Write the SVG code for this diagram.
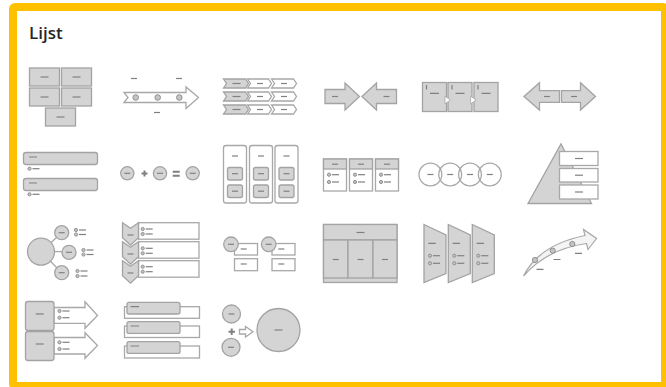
<svg xmlns="http://www.w3.org/2000/svg" width="666" height="387" viewBox="0 0 666 387">
<style>
.g{fill:#d4d4d4;stroke:#a3a3a3;stroke-width:1.3}
.w{fill:#fff;stroke:#a8a8a8;stroke-width:1.3}
.o{fill:none;stroke:#a8a8a8;stroke-width:1.3}
.d{fill:none;stroke:#808080;stroke-width:1.2}
.k{fill:none;stroke:#808080;stroke-width:2}
.c{fill:#c4c4c4;stroke:#909090;stroke-width:1}
.t{font-family:"Open Sans","Noto Sans",sans-serif;font-weight:600;font-size:17px;fill:#262626}
</style>
<defs>
<path id="d5" d="M-3,0h6" class="d"/>
<path id="d7" d="M-4,0h8" class="d"/>
<g id="bul"><circle r="1.6" class="c"/><path d="M3,0h7" class="d"/></g>
</defs>
<rect x="0" y="0" width="666" height="387" fill="#fff"/>
<rect x="13" y="7" width="652" height="379" rx="2" fill="none" stroke="#ffc000" stroke-width="8"/>
<text class="t" x="29" y="39">Lijst</text>

<g id="r1c1">
<rect class="g" x="29.5" y="68" width="30" height="18"/>
<rect class="g" x="61.5" y="68" width="30" height="18"/>
<rect class="g" x="29.5" y="88" width="30" height="18"/>
<rect class="g" x="61.5" y="88" width="30" height="18"/>
<rect class="g" x="45.5" y="108" width="30" height="18"/>
<use href="#d7" x="44.5" y="77"/><use href="#d7" x="76.5" y="77"/>
<use href="#d7" x="44.5" y="97"/><use href="#d7" x="76.5" y="97"/>
<use href="#d7" x="60.5" y="117"/>
</g>

<g id="r1c2">
<path class="w" d="M124,92.5H186V87L198.5,97.5L186,108.5V102.5H124L128,97.5Z"/>
<circle class="c" cx="135.7" cy="97.5" r="2.8"/>
<circle class="c" cx="157.7" cy="97.5" r="2.8"/>
<circle class="c" cx="179.3" cy="97.5" r="2.8"/>
<use href="#d5" x="134" y="78.5"/><use href="#d5" x="179" y="78.5"/><use href="#d5" x="157" y="112.5"/>
</g>

<g id="r1c3">
<path class="w" d="M271.5,79H293.5L296.5,83.5L293.5,88H271.5L274.5,83.5Z"/>
<path class="w" d="M247.5,79H268.5L271.5,83.5L268.5,88H247.5L250.5,83.5Z"/>
<path class="g" d="M223.5,79H245.5L248.5,83.5L245.5,88H223.5L226.5,83.5Z"/>
<path class="w" d="M271.5,92H293.5L296.5,96.5L293.5,101H271.5L274.5,96.5Z"/>
<path class="w" d="M247.5,92H268.5L271.5,96.5L268.5,101H247.5L250.5,96.5Z"/>
<path class="g" d="M223.5,92H245.5L248.5,96.5L245.5,101H223.5L226.5,96.5Z"/>
<path class="w" d="M271.5,105H293.5L296.5,109.5L293.5,114H271.5L274.5,109.5Z"/>
<path class="w" d="M247.5,105H268.5L271.5,109.5L268.5,114H247.5L250.5,109.5Z"/>
<path class="g" d="M223.5,105H245.5L248.5,109.5L245.5,114H223.5L226.5,109.5Z"/>
<use href="#d7" x="236.5" y="83.5"/><use href="#d5" x="260" y="83.5"/><use href="#d5" x="284" y="83.5"/>
<use href="#d7" x="236.5" y="96.5"/><use href="#d5" x="260" y="96.5"/><use href="#d5" x="284" y="96.5"/>
<use href="#d7" x="236.5" y="109.5"/><use href="#d5" x="260" y="109.5"/><use href="#d5" x="284" y="109.5"/>
</g>

<g id="r1c4">
<path class="g" d="M325,89.5H345V83L359.5,96.5L345,110V103.5H325Z"/>
<path class="g" d="M396.5,89.5H376.5V83L362,96.5L376.5,110V103.5H396.5Z"/>
<use href="#d5" x="335" y="96.5"/><use href="#d5" x="386.5" y="96.5"/>
</g>

<g id="r1c5">
<rect class="g" x="422.5" y="82.5" width="24" height="29"/>
<rect class="g" x="448" y="82.5" width="24" height="29"/>
<rect class="g" x="474" y="82.5" width="24" height="29"/>
<path class="d" d="M426.5,85v4.5M452,85v4.5M478,85v4.5"/>
<path class="d" d="M430,93.3h9M455.5,93.3h9M481.5,93.3h9"/>
<path fill="#fff" stroke="#a8a8a8" stroke-width="0.8" d="M445,96.2L450.5,100L445,103.8Z"/>
<path fill="#fff" stroke="#a8a8a8" stroke-width="0.8" d="M470.6,96.2L476.1,100L470.6,103.8Z"/>
</g>

<g id="r1c6">
<path class="g" d="M524,96.5L539.5,82.7V90.7H559.5V102.3H539.5V110Z"/>
<path class="g" d="M561.5,90.7H580.5V82.7L595.5,96.5L580.5,110V102.3H561.5Z"/>
<use href="#d5" x="547" y="96.5"/><use href="#d5" x="574" y="96.5"/>
</g>

<g id="r2c1">
<rect class="g" x="23.5" y="152.5" width="74" height="12" rx="2.5"/>
<rect class="g" x="23.5" y="178.5" width="74" height="12" rx="2.5"/>
<path class="d" d="M29,157h8M29,183h8"/>
<use href="#bul" x="29.5" y="168.7"/><use href="#bul" x="29.5" y="194.3"/>
</g>

<g id="r2c2">
<circle class="g" cx="127.3" cy="173.3" r="6.6"/>
<circle class="g" cx="160" cy="173.3" r="6.6"/>
<circle class="g" cx="192.7" cy="173.3" r="6.6"/>
<use href="#d5" x="127.3" y="173.3"/><use href="#d5" x="160" y="173.3"/><use href="#d5" x="192.7" y="173.3"/>
<path class="k" d="M141.5,173.5h6M144.5,170.5v6M172.7,171.7h7M172.7,175.7h7"/>
</g>

<g id="r2c3">
<rect class="w" x="223.5" y="145.5" width="23" height="57.5" rx="2.5"/>
<rect class="w" x="249.5" y="145.5" width="23" height="57.5" rx="2.5"/>
<rect class="w" x="275" y="145.5" width="23" height="57.5" rx="2.5"/>
<rect class="g" x="227.5" y="167.5" width="15" height="12.5" rx="2"/>
<rect class="g" x="227.5" y="185" width="15" height="12.5" rx="2"/>
<rect class="g" x="253.5" y="167.5" width="15" height="12.5" rx="2"/>
<rect class="g" x="253.5" y="185" width="15" height="12.5" rx="2"/>
<rect class="g" x="279" y="167.5" width="15" height="12.5" rx="2"/>
<rect class="g" x="279" y="185" width="15" height="12.5" rx="2"/>
<use href="#d5" x="235" y="156"/><use href="#d5" x="261" y="156"/><use href="#d5" x="286.5" y="156"/>
<use href="#d5" x="235" y="173.7"/><use href="#d5" x="261" y="173.7"/><use href="#d5" x="286.5" y="173.7"/>
<use href="#d5" x="235" y="191.2"/><use href="#d5" x="261" y="191.2"/><use href="#d5" x="286.5" y="191.2"/>
</g>

<g id="r2c4">
<rect class="w" x="323.5" y="159" width="23" height="32"/>
<rect class="w" x="349.5" y="159" width="23" height="32"/>
<rect class="w" x="375.5" y="159" width="23" height="32"/>
<rect class="g" x="323.5" y="159" width="23" height="10"/>
<rect class="g" x="349.5" y="159" width="23" height="10"/>
<rect class="g" x="375.5" y="159" width="23" height="10"/>
<use href="#d5" x="335" y="164.2"/><use href="#d5" x="361" y="164.2"/><use href="#d5" x="387" y="164.2"/>
<use href="#bul" x="329" y="174.7"/><use href="#bul" x="329" y="182"/>
<use href="#bul" x="355" y="174.7"/><use href="#bul" x="355" y="182"/>
<use href="#bul" x="381" y="174.7"/><use href="#bul" x="381" y="182"/>
</g>

<g id="r2c5">
<circle class="o" cx="430.4" cy="174.5" r="11.4"/>
<circle class="o" cx="450.2" cy="174.5" r="11.4"/>
<circle class="o" cx="470" cy="174.5" r="11.4"/>
<circle class="o" cx="489.8" cy="174.5" r="11.4"/>
<use href="#d5" x="430.4" y="174.5"/><use href="#d5" x="450.2" y="174.5"/><use href="#d5" x="470" y="174.5"/><use href="#d5" x="489.8" y="174.5"/>
</g>

<g id="r2c6">
<path class="g" d="M528,203.5L561,144L591.5,203.5Z"/>
<rect class="w" x="559.5" y="151.5" width="38.5" height="14"/>
<rect class="w" x="559.5" y="168.5" width="38.5" height="13.5"/>
<rect class="w" x="559.5" y="185" width="38.5" height="14"/>
<use href="#d7" x="579" y="158.5"/><use href="#d7" x="579" y="175.2"/><use href="#d7" x="579" y="192"/>
</g>

<g id="r3c1">
<path class="o" d="M41,251.7L61.7,232.7M41,251.7H69M41,251.7L61.7,272.7"/>
<circle class="g" cx="41" cy="251.7" r="13.5"/>
<circle class="g" cx="61.7" cy="232.7" r="7"/>
<circle class="g" cx="69" cy="252.3" r="7"/>
<circle class="g" cx="61.7" cy="272.7" r="7"/>
<use href="#d5" x="61.7" y="232.7"/><use href="#d5" x="69" y="252.3"/><use href="#d5" x="61.7" y="272.7"/>
<use href="#bul" x="76" y="230"/><use href="#bul" x="76" y="234.5"/>
<use href="#bul" x="83.5" y="250"/><use href="#bul" x="83.5" y="254.5"/>
<use href="#bul" x="77.5" y="271"/><use href="#bul" x="77.5" y="276"/>
</g>

<g id="r3c2">
<rect class="w" x="138.5" y="222.7" width="60.5" height="16.5"/>
<rect class="w" x="138.5" y="241.7" width="60.5" height="16.5"/>
<rect class="w" x="138.5" y="260.7" width="60.5" height="16.5"/>
<path class="g" d="M122.5,260.7L130.5,266.2L138.5,260.7V275.7L130.5,283.2L122.5,275.7Z"/>
<path class="g" d="M122.5,241.7L130.5,247.2L138.5,241.7V256.7L130.5,264.2L122.5,256.7Z"/>
<path class="g" d="M122.5,222.7L130.5,228.2L138.5,222.7V237.7L130.5,245.2L122.5,237.7Z"/>
<use href="#d5" x="130.5" y="235"/><use href="#d5" x="130.5" y="254"/><use href="#d5" x="130.5" y="273"/>
<use href="#bul" x="142.7" y="229"/><use href="#bul" x="142.7" y="234"/>
<use href="#bul" x="142.7" y="248.3"/><use href="#bul" x="142.7" y="253.3"/>
<use href="#bul" x="142.7" y="266.7"/><use href="#bul" x="142.7" y="271.7"/>
</g>

<g id="r3c3">
<rect class="w" x="234.5" y="243.5" width="23" height="11.5"/>
<rect class="w" x="234.5" y="258.7" width="23" height="12"/>
<circle class="g" cx="231" cy="244.3" r="7.3"/>
<rect class="w" x="272" y="243.5" width="23" height="11.5"/>
<rect class="w" x="272" y="258.7" width="23" height="12"/>
<circle class="g" cx="268.7" cy="244.3" r="7.3"/>
<use href="#d5" x="231" y="244.3"/><use href="#d5" x="268.7" y="244.3"/>
<use href="#d5" x="243.7" y="249"/><use href="#d5" x="243.7" y="264"/>
<use href="#d5" x="281.3" y="249"/><use href="#d5" x="281.3" y="264"/>
</g>

<g id="r3c4">
<rect class="g" x="323.5" y="224.5" width="73.5" height="58"/>
<rect class="g" x="323.5" y="224.5" width="73.5" height="15.5"/>
<rect class="g" x="323.5" y="240" width="24.5" height="38"/>
<rect class="g" x="348" y="240" width="25" height="38"/>
<rect class="g" x="373" y="240" width="24" height="38"/>
<use href="#d7" x="360.5" y="232.5"/>
<use href="#d5" x="335.7" y="259.5"/><use href="#d5" x="360.5" y="259.5"/><use href="#d5" x="385" y="259.5"/>
</g>

<g id="r3c5">
<path class="g" d="M424,224.5L446,235V273.5L424,282.5Z"/>
<path class="g" d="M448.3,224.5L470.3,235V273.5L448.3,282.5Z"/>
<path class="g" d="M472.3,224.5L494.3,235V273.5L472.3,282.5Z"/>
<path class="d" d="M428.3,243.3h7.5M452.6,243.3h7.5M476.6,243.3h7.5"/>
<use href="#bul" x="430" y="255.7"/><use href="#bul" x="430" y="263.3"/>
<use href="#bul" x="454.3" y="255.7"/><use href="#bul" x="454.3" y="263.3"/>
<use href="#bul" x="478.3" y="255.7"/><use href="#bul" x="478.3" y="263.3"/>
</g>

<g id="r3c6">
<path fill="#f4f4f4" stroke="#a8a8a8" stroke-width="1.2" d="M523.5,276Q539,245 585,235.5L583.5,229.5L596.5,238.5L588,249.5L586.5,243.5Q547,249 523.5,276Z"/>
<circle class="c" cx="535" cy="260" r="2.6"/>
<circle class="c" cx="552.7" cy="250.7" r="2.6"/>
<circle class="c" cx="572.3" cy="244" r="2.6"/>
<path class="d" d="M536.5,269.3h7M553.5,259.5h7M575,253.3h7"/>
</g>

<g id="r4c1">
<path class="w" d="M54,307.5H85V301.7L97.5,315.5L85,328.3V323.3H54Z"/>
<path class="w" d="M54,337.5H85V332.7L97.5,345.5L85,358.3V354H54Z"/>
<rect class="g" x="25.5" y="301.5" width="28.5" height="29" rx="2.5"/>
<rect class="g" x="25.5" y="331.5" width="28.5" height="29" rx="2.5"/>
<use href="#d7" x="39.7" y="314"/><use href="#d7" x="39.7" y="344"/>
<use href="#bul" x="59.5" y="311"/><use href="#bul" x="59.5" y="317.7"/>
<use href="#bul" x="59.5" y="342.3"/><use href="#bul" x="59.5" y="349"/>
</g>

<g id="r4c2">
<rect class="w" x="124.5" y="306.7" width="75" height="11.6"/>
<rect class="w" x="124.5" y="326" width="75" height="11.5"/>
<rect class="w" x="124.5" y="346" width="75" height="12"/>
<rect class="g" x="127" y="302.3" width="53" height="11.7" rx="2"/>
<rect class="g" x="127" y="321.7" width="53" height="11.7" rx="2"/>
<rect class="g" x="127" y="341.7" width="53" height="11.7" rx="2"/>
<path class="d" d="M130.5,306.7h8.5M130.5,326h8.5M130.5,346h8.5"/>
</g>

<g id="r4c3">
<circle class="g" cx="231.5" cy="314" r="9"/>
<circle class="g" cx="231" cy="347.3" r="9"/>
<use href="#d5" x="231.5" y="314"/><use href="#d5" x="231" y="347.3"/>
<path class="k" d="M228.5,331.7h6.5M231.7,328.5v6.5"/>
<path class="w" d="M239.5,329.5H245.5V326.5L253,331.7L245.5,337V334H239.5Z"/>
<circle class="g" cx="278.5" cy="330" r="21.5"/>
<use href="#d7" x="278.5" y="330"/>
</g>
</svg>
